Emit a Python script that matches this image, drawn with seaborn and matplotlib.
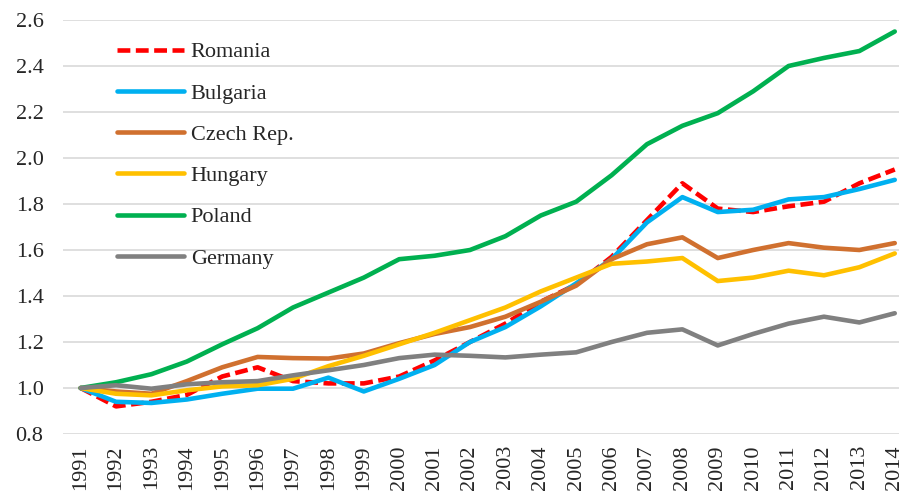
import pandas as pd
import seaborn as sns
import matplotlib.pyplot as plt

years = list(range(1991, 2015))

romania = [1.00, 0.92, 0.94, 0.97, 1.05, 1.09, 1.03, 1.02, 1.02, 1.05, 1.12, 1.20,
           1.28, 1.375, 1.45, 1.57, 1.73, 1.89, 1.78, 1.765, 1.79, 1.81, 1.89, 1.95]
bulgaria = [1.00, 0.94, 0.935, 0.95, 0.975, 0.997, 0.997, 1.045, 0.985, 1.04, 1.10, 1.20,
            1.265, 1.355, 1.455, 1.56, 1.72, 1.83, 1.765, 1.775, 1.82, 1.83, 1.865, 1.905]
czech = [1.00, 0.985, 0.975, 1.03, 1.09, 1.135, 1.13, 1.128, 1.15, 1.195, 1.235, 1.265,
         1.31, 1.375, 1.445, 1.56, 1.625, 1.655, 1.565, 1.60, 1.63, 1.61, 1.60, 1.63]
hungary = [1.00, 0.975, 0.968, 0.99, 1.007, 1.012, 1.04, 1.095, 1.14, 1.19, 1.24, 1.295,
           1.35, 1.42, 1.48, 1.54, 1.55, 1.565, 1.465, 1.48, 1.51, 1.49, 1.525, 1.585]
poland = [1.00, 1.025, 1.06, 1.115, 1.19, 1.26, 1.35, 1.415, 1.48, 1.56, 1.575, 1.60,
          1.66, 1.75, 1.81, 1.925, 2.06, 2.14, 2.195, 2.29, 2.40, 2.435, 2.465, 2.55]
germany = [1.00, 1.012, 0.997, 1.016, 1.025, 1.03, 1.055, 1.077, 1.10, 1.13, 1.145, 1.14,
           1.133, 1.145, 1.155, 1.20, 1.24, 1.255, 1.185, 1.235, 1.28, 1.31, 1.285, 1.325]

countries = ["Romania", "Bulgaria", "Czech Rep.", "Hungary", "Poland", "Germany"]
series = [romania, bulgaria, czech, hungary, poland, germany]
colors = ["#FF0000", "#00B0F0", "#D0702F", "#FFC000", "#00B050", "#808080"]

df = pd.concat([pd.DataFrame({"pos": range(len(years)), "value": v, "country": c})
                for c, v in zip(countries, series)])

sns.set_style("white")
plt.rcParams["font.family"] = ["Liberation Serif", "DejaVu Serif"]

fig = plt.figure(figsize=(8.99, 5), dpi=100)
ax = fig.add_axes([0.07, 0.132, 0.93, 0.828])

for c, col in zip(countries, colors):
    d = df[df["country"] == c]
    if c == "Romania":
        sns.lineplot(data=d, x="pos", y="value", ax=ax, color=col, linewidth=3.3,
                     label=c, dashes=False, dash_capstyle="butt").lines[-1].set_dashes((2.8, 1.2))
    else:
        sns.lineplot(data=d, x="pos", y="value", ax=ax, color=col, linewidth=3.3,
                     label=c, solid_capstyle="round")

ax.set_ylim(0.8, 2.6)
ax.set_yticks([0.8 + 0.2 * i for i in range(10)])
ax.set_yticklabels([f"{0.8 + 0.2 * i:.1f}" for i in range(10)], fontsize=16)
ax.set_xlim(-0.5, 23.12)
ax.set_xticks(range(len(years)))
ax.set_xticklabels([str(y) for y in years], rotation=90, fontsize=16)
ax.tick_params(axis="y", length=0, pad=14)
ax.tick_params(axis="x", length=0, pad=8)
ax.yaxis.grid(True, color="#D9D9D9", linewidth=1.2)
ax.xaxis.grid(False)
ax.set_xlabel("")
ax.set_ylabel("")
for s in ax.spines.values():
    s.set_visible(False)

leg = ax.legend(loc="upper left", bbox_to_anchor=(0.044, 0.99), frameon=False,
                fontsize=16, handlelength=3.0, labelspacing=0.93, handletextpad=0.3,
                borderpad=0.3)
leg.get_lines()[0].set_dashes((2.8, 1.2))

fig.savefig("out.png", dpi=100)
